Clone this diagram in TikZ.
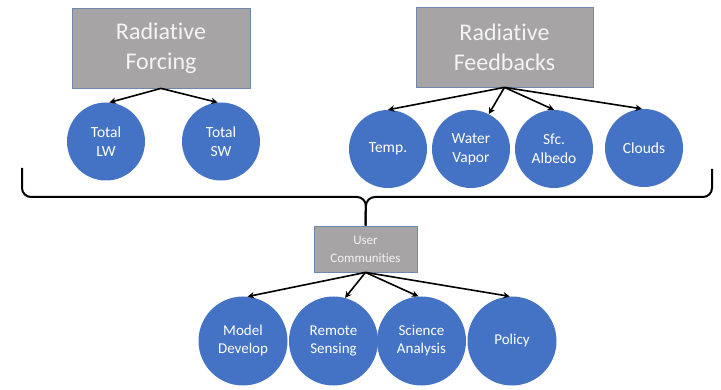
\documentclass[tikz,border=0pt]{standalone}
\usepackage{fontspec}
\setmainfont{Carlito}[RawFeature={-liga,-calt,-clig,-dlig}]
\usetikzlibrary{arrows.meta}
\definecolor{boxgray}{HTML}{A6A4A4}
\definecolor{boxedge}{HTML}{7088AC}
\definecolor{dotblue}{HTML}{4472C4}
\definecolor{boxtext}{HTML}{F4F4F4}
\begin{document}
\begin{tikzpicture}
[x=1pt,y=-1pt,>={Stealth[length=6.5pt,width=6.5pt]},
title/.style={draw=boxedge,line width=0.8pt,fill=boxgray,text=boxtext,align=center,inner sep=0pt,font=\fontsize{24}{30}\selectfont},
usrbox/.style={draw=boxedge,line width=0.8pt,fill=boxgray,text=boxtext,align=center,inner sep=0pt,minimum width=103pt,minimum height=46pt,font=\fontsize{13}{18}\selectfont},
dot/.style={circle,fill=dotblue,text=white,align=center,inner sep=0pt,minimum size=78pt,font=\fontsize{15.5}{19}\selectfont},
bigdot/.style={dot,minimum size=89pt,font=\fontsize{15}{18}\selectfont},
link/.style={->,line width=1.6pt},
brace/.style={line width=2pt,rounded corners=9pt},]

\useasboundingbox (0,0) rectangle (721,390);

%Top boxes
\node (RF) at (161,48)[title,minimum width=178pt,minimum height=80pt] {Radiat\kern0pt ive\\Forcing};
\node (RB) at (504.5,47)[title,minimum width=177pt,minimum height=80pt] {Radiat\kern0pt ive\\Feedbacks};

%Forcing circles
\node (LW) at (106,141.5)[dot] {Total\\LW};
\node (SW) at (221,141.5)[dot] {Total\\SW};

%Feedback circles
\node (T) at (388,149)[dot] {Temp.};
\node (WV) at (471,149)[dot] {Water\\Vapor};
\node (SA) at (554,149)[dot] {Sfc.\\Albedo};
\node (CL) at (644,148)[dot] {Clouds};

%User communities
\node (UC) at (365.5,249)[usrbox] {User\\Communit\kern0pt ies};

\node (MD) at (243,341)[bigdot] {Model\\Develop};
\node (RS) at (333.5,341)[bigdot] {Remote\\Sensing};
\node (SC) at (421.5,341)[bigdot] {Science\\Analysis};
\node (PO) at (512,341)[bigdot] {Policy};

%Arrows
\draw[link] (RF.south) -- (LW.85);
\draw[link] (RF.south) -- (SW.95);
\draw[link] (RB.south) -- (T.north);
\draw[link] (RB.south) -- (WV.63);
\draw[link] (RB.south) -- (SA.north);
\draw[link] (RB.south) -- (CL.93);
\draw[link] (UC.south) -- (MD.84);
\draw[link] (UC.south) -- (RS.75);
\draw[link] (UC.south) -- (SC.94);
\draw[link] (UC.south) -- (PO.93);

%Brace
\coordinate (BL) at (22,168);
\coordinate (BR) at (712,169);
\coordinate (BT) at (366,197);
\draw[brace] (BL) |- (BT) -- (UC.north);
\draw[brace] (BR) |- (BT) -- (UC.north);

\end{tikzpicture}
\end{document}
